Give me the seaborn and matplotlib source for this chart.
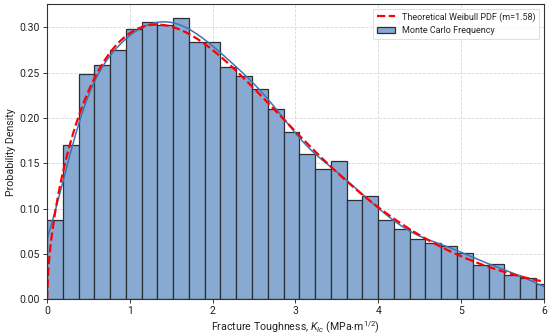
import numpy as np
import pandas as pd
import seaborn as sns
import matplotlib.pyplot as plt

# histogram (density per bin)
bin_width = 0.1904
bin_edges = [i * bin_width for i in range(33)]
bar_heights = [0.0871, 0.170, 0.2485, 0.259, 0.2746, 0.2978, 0.3055, 0.3025,
               0.3107, 0.2834, 0.2834, 0.2559, 0.2466, 0.2316, 0.2096, 0.1849,
               0.1603, 0.1434, 0.1525, 0.1092, 0.1139, 0.0878, 0.0772, 0.0662,
               0.0621, 0.0591, 0.0507, 0.0375, 0.0389, 0.0268, 0.0235, 0.0165]
bin_centers = [e + bin_width / 2 for e in bin_edges[:-1]]

# theoretical weibull
m = 1.58
scale = 2.5
k_grid = np.linspace(0, 6, 400)
pdf = (m / scale) * (k_grid / scale) ** (m - 1) * np.exp(-(k_grid / scale) ** m)

df = pd.DataFrame({"k": bin_centers, "w": bar_heights})

sns.set_theme(style="ticks")
plt.rcParams['font.family'] = ['Roboto', 'DejaVu Sans']
plt.rcParams['mathtext.fontset'] = 'custom'
plt.rcParams['mathtext.rm'] = 'Roboto'
plt.rcParams['mathtext.it'] = 'Roboto:italic'

fig, ax = plt.subplots(figsize=(5.5, 3.36), dpi=100)
fig.subplots_adjust(left=0.0855, right=0.989, bottom=0.109, top=0.988)

ax.grid(True, linestyle='--', color='#cfcfcf', linewidth=0.6, alpha=0.8)
ax.set_axisbelow(True)

sns.histplot(data=df, x="k", weights="w", bins=bin_edges, stat="count",
             facecolor='#88aad2', edgecolor='#2b2f36', linewidth=0.9,
             label="Monte Carlo Frequency", ax=ax)
sns.kdeplot(data=df, x="k", weights="w", bw_adjust=0.34, cut=3, clip=(0, 8),
            color='#3b75b5', linewidth=1.1, ax=ax)
sns.lineplot(x=k_grid, y=pdf, color='red', linestyle='--', linewidth=1.6,
             label="Theoretical Weibull PDF (m=1.58)", ax=ax)

ax.set_xlim(0, 6)
ax.set_ylim(0, 0.3257)
ax.set_xticks(range(7))
ax.set_xlabel(r"Fracture Toughness, $K_{Ic}$ (MPa$\cdot$m$^{1/2}$)", fontsize=7.7,
              color='#222222', labelpad=2)
ax.set_ylabel("Probability Density", fontsize=7.7, color='#222222', labelpad=3)
ax.tick_params(labelsize=7.5, length=3, width=0.7, pad=2, color='#333333', labelcolor='#222222')
for s in ax.spines.values():
    s.set_color('#333333')
    s.set_linewidth(0.8)

handles, labels = ax.get_legend_handles_labels()
order = [labels.index("Theoretical Weibull PDF (m=1.58)"), labels.index("Monte Carlo Frequency")]
leg = ax.legend([handles[i] for i in order], [labels[i] for i in order],
                loc='upper right', fontsize=6.5, frameon=True)
leg.get_frame().set_edgecolor('#d0d0d0')
leg.get_frame().set_linewidth(0.6)

fig.savefig("out.png", dpi=100)
